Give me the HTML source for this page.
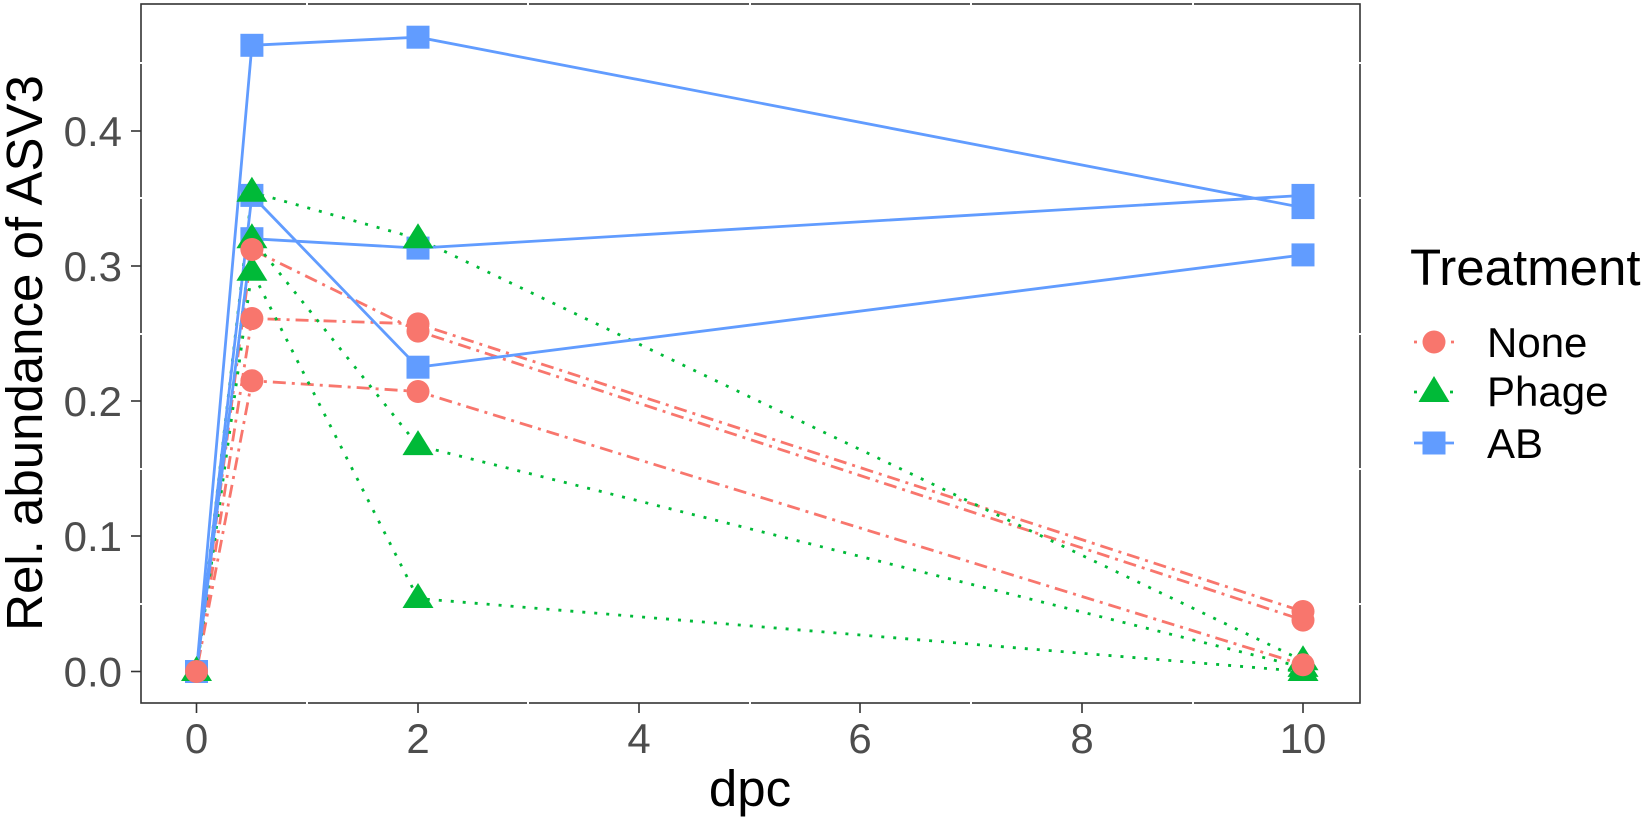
<!DOCTYPE html>
<html><head><meta charset="utf-8"><style>html,body{margin:0;padding:0;background:#fff}svg{display:block}</style></head>
<body>
<svg width="1652" height="823" viewBox="0 0 1652 823" xmlns="http://www.w3.org/2000/svg" font-family="Liberation Sans, Arial, sans-serif">
<rect width="1652" height="823" fill="#fff"/>
<rect x="141" y="4" width="1219" height="699" fill="none" stroke="#333" stroke-width="1.6"/>
<g stroke="#fff" stroke-width="2">
<line x1="307" y1="2" x2="307" y2="706"/><line x1="528" y1="2" x2="528" y2="706"/><line x1="750" y1="2" x2="750" y2="706"/><line x1="971" y1="2" x2="971" y2="706"/><line x1="1193" y1="2" x2="1193" y2="706"/>
<line x1="138" y1="604" x2="1363" y2="604"/><line x1="138" y1="469" x2="1363" y2="469"/><line x1="138" y1="334" x2="1363" y2="334"/><line x1="138" y1="198" x2="1363" y2="198"/><line x1="138" y1="63" x2="1363" y2="63"/>
</g>
<g stroke="#333" stroke-width="1.6">
<line x1="196.5" y1="703" x2="196.5" y2="713"/><line x1="418" y1="703" x2="418" y2="713"/><line x1="639" y1="703" x2="639" y2="713"/><line x1="860" y1="703" x2="860" y2="713"/><line x1="1082" y1="703" x2="1082" y2="713"/><line x1="1303" y1="703" x2="1303" y2="713"/>
<line x1="131" y1="671.5" x2="141" y2="671.5"/><line x1="131" y1="536" x2="141" y2="536"/><line x1="131" y1="401" x2="141" y2="401"/><line x1="131" y1="266" x2="141" y2="266"/><line x1="131" y1="131" x2="141" y2="131"/>
</g>
<g fill="#4d4d4d" font-size="42" text-anchor="middle">
<text x="196.5" y="753">0</text><text x="418" y="753">2</text><text x="639" y="753">4</text><text x="860" y="753">6</text><text x="1082" y="753">8</text><text x="1303" y="753">10</text>
</g>
<g fill="#4d4d4d" font-size="42" text-anchor="end">
<text x="122" y="686.5">0.0</text><text x="122" y="551">0.1</text><text x="122" y="416">0.2</text><text x="122" y="281">0.3</text><text x="122" y="146">0.4</text>
</g>
<text x="750" y="806" font-size="51" text-anchor="middle" fill="#000">dpc</text>
<text transform="translate(42,353) rotate(-90)" font-size="51" text-anchor="middle" fill="#000">Rel. abundance of ASV3</text>
<!-- lines: x0=196.5 x0.5=251.9 x2=418 x10=1303; y=671.5-1352.5*v -->
<g fill="none" stroke-width="2.8">
<g stroke="#F8766D" stroke-dasharray="3 6 13 6">
<polyline points="196.5,671.5 251.9,249.5 418,331.1 1303,620.1"/>
<polyline points="196.5,671.5 251.9,318.5 418,323.9 1303,611.5"/>
<polyline points="196.5,671.5 251.9,380.7 418,391.5 1303,664.7"/>
</g>
<g stroke="#00BA38" stroke-dasharray="3 9">
<polyline points="196.5,671.5 251.9,192.2 418,238.7 1303,660.7"/>
<polyline points="196.5,671.5 251.9,238.7 418,445.6 1303,667.4"/>
<polyline points="196.5,671.5 251.9,271.2 418,598.5 1303,671.5"/>
</g>
<g stroke="#619CFF">
<polyline points="196.5,671.5 251.9,045.3 418,037.2 1303,207.6"/>
<polyline points="196.5,671.5 251.9,195.4 418,367.2 1303,254.9"/>
<polyline points="196.5,671.5 251.9,238.7 418,248.1 1303,195.4"/>
</g>
</g>
<g fill="#619CFF">
<rect x="185" y="660" width="23" height="23"/>
<rect x="240.4" y="33.8" width="23" height="23"/><rect x="406.5" y="25.7" width="23" height="23"/><rect x="1291.5" y="196.1" width="23" height="23"/>
<rect x="240.4" y="183.9" width="23" height="23"/><rect x="406.5" y="355.7" width="23" height="23"/><rect x="1291.5" y="243.4" width="23" height="23"/>
<rect x="240.4" y="227.2" width="23" height="23"/><rect x="406.5" y="236.6" width="23" height="23"/><rect x="1291.5" y="183.9" width="23" height="23"/>
</g>
<g fill="#00BA38">
<path d="M196.5,656 l15.5,25 h-31z"/>
<path d="M251.9,176.7 l15.5,25 h-31z"/><path d="M418,223.2 l15.5,25 h-31z"/><path d="M1303,645.2 l15.5,25 h-31z"/>
<path d="M251.9,223.2 l15.5,25 h-31z"/><path d="M418,430.1 l15.5,25 h-31z"/><path d="M1303,651.9 l15.5,25 h-31z"/>
<path d="M251.9,255.7 l15.5,25 h-31z"/><path d="M418,583 l15.5,25 h-31z"/><path d="M1303,656 l15.5,25 h-31z"/>
</g>
<g fill="#F8766D">
<circle cx="196.5" cy="671.5" r="11.5"/>
<circle cx="251.9" cy="249.5" r="11.5"/><circle cx="418" cy="331.1" r="11.5"/><circle cx="1303" cy="620.1" r="11.5"/>
<circle cx="251.9" cy="318.5" r="11.5"/><circle cx="418" cy="323.9" r="11.5"/><circle cx="1303" cy="611.5" r="11.5"/>
<circle cx="251.9" cy="380.7" r="11.5"/><circle cx="418" cy="391.5" r="11.5"/><circle cx="1303" cy="664.7" r="11.5"/>
</g>
<!-- legend -->
<text x="1410" y="285" font-size="51" fill="#000">Treatment</text>
<line x1="1414" y1="342" x2="1454" y2="342" stroke="#F8766D" stroke-width="2.8" stroke-dasharray="3 6 13 6"/>
<circle cx="1434" cy="342" r="11.5" fill="#F8766D"/>
<line x1="1414" y1="392" x2="1454" y2="392" stroke="#00BA38" stroke-width="2.8" stroke-dasharray="3 9"/>
<path d="M1434,376 l15.5,26 h-31z" fill="#00BA38"/>
<line x1="1414" y1="443" x2="1454" y2="443" stroke="#619CFF" stroke-width="2.8"/>
<rect x="1422.5" y="431.5" width="23" height="23" fill="#619CFF"/>
<g font-size="42" fill="#000">
<text x="1487" y="357">None</text><text x="1487" y="406">Phage</text><text x="1487" y="458">AB</text>
</g>
</svg>
</body></html>
